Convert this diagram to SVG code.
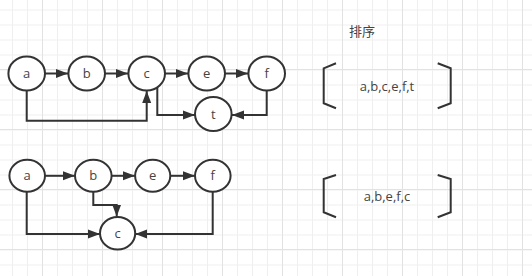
<svg xmlns="http://www.w3.org/2000/svg" width="532" height="276" viewBox="0 0 532 276">
<defs>
<pattern id="minor" x="12" y="9.5" width="15" height="15" patternUnits="userSpaceOnUse">
<path d="M0.5 0V15M0 0.5H15" stroke="#efefef" stroke-width="1" fill="none"/>
</pattern>
<marker id="arr" viewBox="0 0 12 10" refX="12" refY="5" markerWidth="12" markerHeight="10" markerUnits="userSpaceOnUse" orient="auto">
<path d="M0 0.5L12 5L0 9.5z" fill="#333"/>
</marker>
<style>
.n ellipse{fill:#fff;stroke:#333;stroke-width:2}
.n text,.t{font-family:"Open Sans","Noto Sans","Noto Sans CJK SC",sans-serif;font-size:13px;fill:#444;text-anchor:middle}
.e path{fill:none;stroke:#333;stroke-width:2;marker-end:url(#arr)}
.br path{fill:none;stroke:#333;stroke-width:2}
.maj{stroke:#e2e2e2;stroke-width:1}
</style>
</defs>
<rect width="532" height="276" fill="#fff"/>
<rect width="532" height="276" fill="url(#minor)"/>
<g class="maj">
<path d="M42.5 0V276M102.5 0V276M162.5 0V276M222.5 0V276M282.5 0V276M342.5 0V276M402.5 0V276M462.5 0V276M522.5 0V276"/>
<path d="M0 69.5H532M0 129.5H532M0 189.5H532M0 249.5H532"/>
</g>
<g id="connectors" class="e">
<path d="M45 73.5H68"/>
<path d="M105 73.5H128"/>
<path d="M165 73.5H188"/>
<path d="M225 73.5H248"/>
<path d="M26.7 90.5V120.7H146.7V91"/>
<path d="M157.3 87V115H195"/>
<path d="M266.7 90.5V115H232"/>
<path d="M45 175.8H75"/>
<path d="M111.7 175.8H135"/>
<path d="M170.3 175.8H195"/>
<path d="M93.3 191.7V205H116.7V216.5"/>
<path d="M26.7 191.7V234H100"/>
<path d="M212.7 191.7V234H135.3"/>
</g>
<g id="n1a" class="n"><ellipse cx="26.7" cy="73.5" rx="18.3" ry="17"/><text x="26.7" y="78">a</text></g>
<g id="n1b" class="n"><ellipse cx="86.7" cy="73.5" rx="18.3" ry="17"/><text x="86.7" y="78">b</text></g>
<g id="n1c" class="n"><ellipse cx="146.7" cy="73.5" rx="18.3" ry="17"/><text x="146.7" y="78">c</text></g>
<g id="n1e" class="n"><ellipse cx="206.7" cy="73.5" rx="18.3" ry="17"/><text x="206.7" y="78">e</text></g>
<g id="n1f" class="n"><ellipse cx="266.7" cy="73.5" rx="18.3" ry="17"/><text x="266.7" y="78">f</text></g>
<g id="n1t" class="n"><ellipse cx="213.3" cy="114" rx="18.3" ry="17"/><text x="213.3" y="118.5">t</text></g>
<g id="n2a" class="n"><ellipse cx="27.2" cy="175.8" rx="17.8" ry="16"/><text x="27.2" y="180.3">a</text></g>
<g id="n2b" class="n"><ellipse cx="93.3" cy="175.8" rx="18.3" ry="16"/><text x="93.3" y="180.3">b</text></g>
<g id="n2e" class="n"><ellipse cx="152.7" cy="175.8" rx="17.6" ry="16"/><text x="152.7" y="180.3">e</text></g>
<g id="n2f" class="n"><ellipse cx="212.8" cy="175.8" rx="17.8" ry="16"/><text x="212.8" y="180.3">f</text></g>
<g id="n2c" class="n"><ellipse cx="117.6" cy="233.2" rx="17.6" ry="16.3"/><text x="117.6" y="237.7">c</text></g>
<text class="t" x="362" y="36">排序</text>
<g id="list1" class="br">
<path d="M336 63.3L323.7 68.3V103.3L336 108.3"/>
<path d="M437.7 63.3L450.7 68.3V103.3L437.7 108.3"/>
</g>
<text class="t" x="387" y="91">a,b,c,e,f,t</text>
<g id="list2" class="br">
<path d="M336 175L323.7 179V212.3L336 217.3"/>
<path d="M437.7 175L450.7 179V212.3L437.7 217.3"/>
</g>
<text class="t" x="387" y="201">a,b,e,f,c</text>
</svg>
